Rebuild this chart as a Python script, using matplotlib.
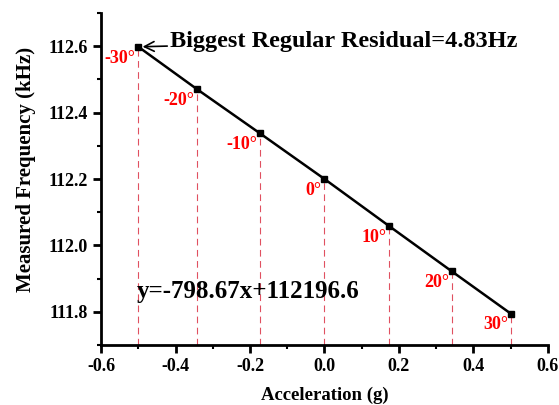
import matplotlib.pyplot as plt
from matplotlib.ticker import MultipleLocator

angles = [-30, -20, -10, 0, 10, 20, 30]
accel = [-0.5, -0.342, -0.174, 0.0, 0.174, 0.342, 0.5]
freq = [112.598, 112.470, 112.338, 112.200, 112.058, 111.922, 111.795]

plt.rcParams["font.family"] = ["Liberation Serif", "DejaVu Serif"]
plt.rcParams["font.weight"] = "bold"

fig = plt.figure(figsize=(5.59, 4.05), dpi=100)
ax = fig.add_axes([0.181, 0.148, 0.799, 0.82])

ymin = 111.7
for x, y in zip(accel, freq):
    ax.plot([x, x], [ymin, y], color="#e05060", lw=0.8, dashes=(6, 4), zorder=1)

ax.plot(accel, freq, color="black", lw=1.8, marker="s", ms=5, zorder=3)

for a, x, y in zip(angles, accel, freq):
    ax.annotate(f"{a}°", (x, y), xytext=(-2, -2), textcoords="offset points",
                ha="right", va="top", color="red", fontsize=13, fontweight="bold")

ax.annotate("Biggest Regular Residual=4.83Hz", xy=(accel[0], freq[0]),
            xytext=(-0.415, 112.614), fontsize=17.5, fontweight="bold", va="center",
            arrowprops=dict(arrowstyle="->", color="black", lw=1.2,
                            shrinkA=0, shrinkB=3))

ax.text(-0.505, 111.86, "y=-798.67x+112196.6", fontsize=18, fontweight="bold",
        va="center")

ax.set_xlim(-0.6, 0.6)
ax.set_ylim(ymin, 112.7)
ax.xaxis.set_major_locator(MultipleLocator(0.2))
ax.xaxis.set_minor_locator(MultipleLocator(0.1))
ax.yaxis.set_minor_locator(MultipleLocator(0.1))
ax.set_yticks([111.8, 112.0, 112.2, 112.4, 112.6])
ax.yaxis.set_major_formatter(plt.FormatStrFormatter("%.1f"))
ax.xaxis.set_major_formatter(plt.FormatStrFormatter("%.1f"))

for side in ["top", "right"]:
    ax.spines[side].set_visible(False)
for side in ["left", "bottom"]:
    ax.spines[side].set_linewidth(2)

ax.tick_params(which="major", direction="out", length=6, width=2, labelsize=13)
ax.tick_params(which="minor", direction="out", length=3, width=1.5)

ax.set_xlabel("Acceleration (g)", fontsize=13.5, fontweight="bold", labelpad=8)
ax.set_ylabel("Measured Frequency (kHz)", fontsize=15, fontweight="bold")
ax.yaxis.set_label_coords(-0.145, 0.53)

fig.savefig("out.png", dpi=100)
